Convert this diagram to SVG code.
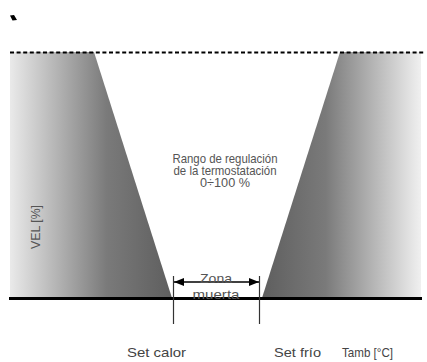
<svg xmlns="http://www.w3.org/2000/svg" width="427" height="362" viewBox="0 0 427 362">
<defs>
<linearGradient id="gl" x1="9" y1="0" x2="172" y2="0" gradientUnits="userSpaceOnUse">
<stop offset="0" stop-color="#ebebeb"/><stop offset="0.6" stop-color="#7a7a7a"/><stop offset="1" stop-color="#5e5e5e"/>
</linearGradient>
<linearGradient id="gr" x1="262" y1="0" x2="421" y2="0" gradientUnits="userSpaceOnUse">
<stop offset="0" stop-color="#5e5e5e"/><stop offset="0.4" stop-color="#7a7a7a"/><stop offset="1" stop-color="#f0f0f0"/>
</linearGradient>
<marker id="ah" viewBox="0 0 10 10" refX="10" refY="5" markerWidth="10" markerHeight="10" markerUnits="userSpaceOnUse" orient="auto-start-reverse">
<path d="M0,1 L10,5 L0,9 Z" fill="#000"/>
</marker>
<style>
.t{font-family:"Liberation Sans",Arial,sans-serif;font-size:13px;fill:#444}
.g{font-family:"Liberation Sans",Arial,sans-serif;font-size:13px;fill:#555}
</style>
</defs>
<g id="mark"><path d="M10,15.5 L14,15 L17,20 L12.5,20.5 Z" fill="#000"/></g>
<g id="zones">
<polygon points="10,52 94,52 172,298 10,298" fill="url(#gl)"/>
<polygon points="340,52 421,52 421,298 262,298" fill="url(#gr)"/>
</g>
<g id="connectors">
<line x1="10" y1="52.5" x2="424" y2="52.5" stroke="#000" stroke-width="2" stroke-dasharray="4,2.6"/>
<line x1="9" y1="298.5" x2="422" y2="298.5" stroke="#000" stroke-width="3"/>
<line x1="173.5" y1="276" x2="173.5" y2="324" stroke="#333" stroke-width="1.2"/>
<line x1="259.5" y1="276" x2="259.5" y2="324" stroke="#333" stroke-width="1.2"/>
<line x1="174" y1="282" x2="259" y2="282" stroke="#000" stroke-width="1.5" marker-start="url(#ah)" marker-end="url(#ah)"/>
</g>
<g id="labels">
<text class="g" x="225" y="163" text-anchor="middle" textLength="105" lengthAdjust="spacingAndGlyphs">Rango de regulación</text>
<text class="g" x="225" y="175" text-anchor="middle" textLength="103" lengthAdjust="spacingAndGlyphs">de la termostatación</text>
<text class="g" x="225" y="187" text-anchor="middle" textLength="50" lengthAdjust="spacingAndGlyphs">0÷100 %</text>
<text class="g" x="216" y="283" text-anchor="middle" textLength="32" lengthAdjust="spacingAndGlyphs">Zona</text>
<text class="g" x="216" y="299" text-anchor="middle" textLength="47" lengthAdjust="spacingAndGlyphs">muerta</text>
<text class="g" transform="translate(40,227) rotate(-90)" text-anchor="middle" textLength="44" lengthAdjust="spacingAndGlyphs">VEL [%]</text>
<text class="t" x="127" y="357" textLength="59" lengthAdjust="spacingAndGlyphs">Set calor</text>
<text class="t" x="274" y="357" textLength="47" lengthAdjust="spacingAndGlyphs">Set frío</text>
<text class="t" x="342" y="357" textLength="51" lengthAdjust="spacingAndGlyphs">Tamb [°C]</text>
</g>
</svg>
